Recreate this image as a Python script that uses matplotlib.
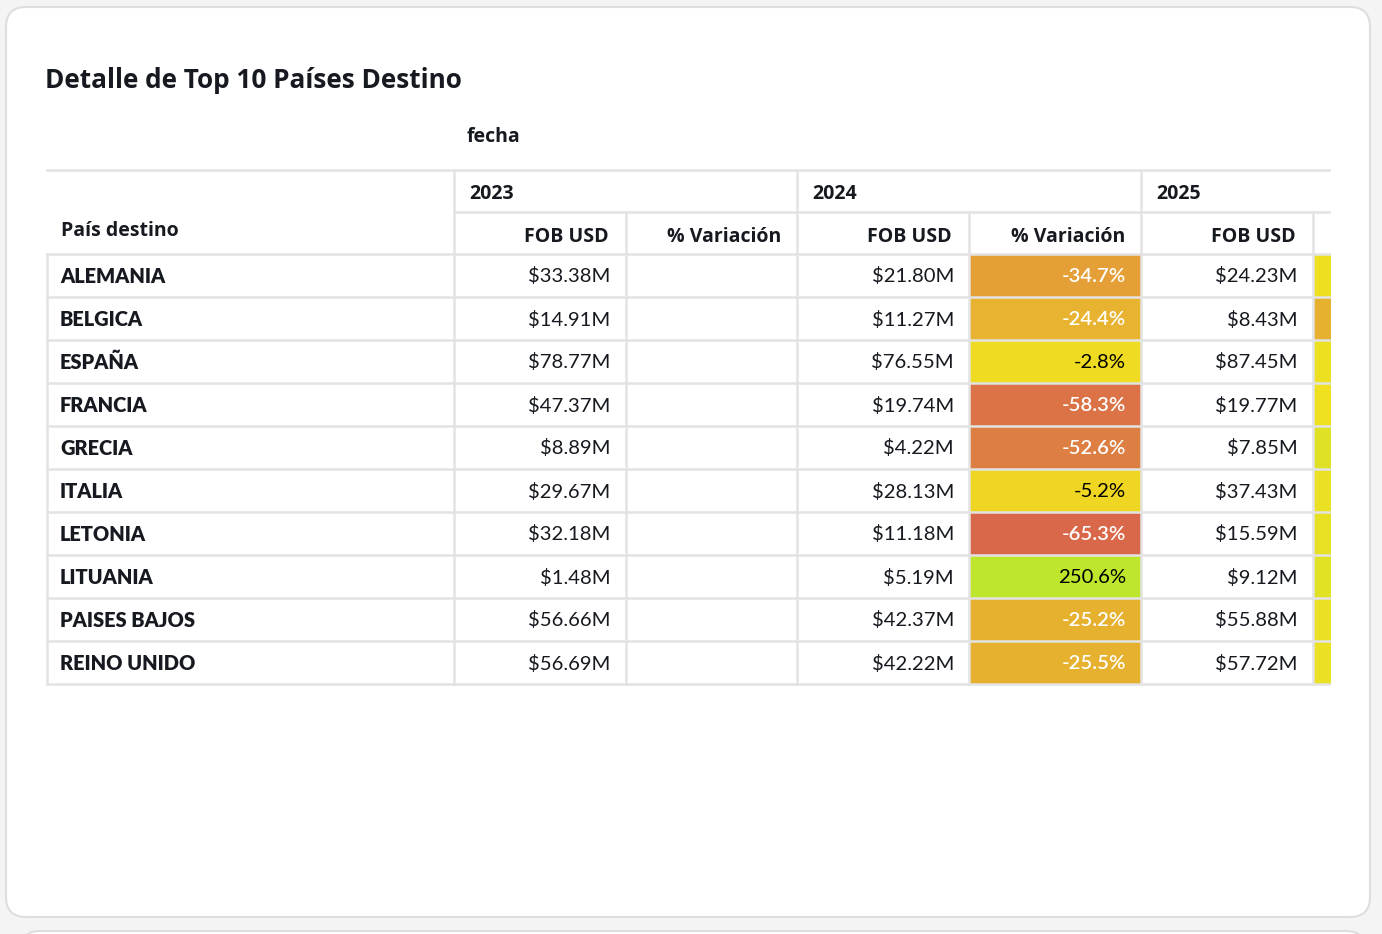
import matplotlib
matplotlib.use("Agg")
import matplotlib.pyplot as plt
from matplotlib.patches import FancyBboxPatch, Rectangle
from matplotlib.colors import LinearSegmentedColormap, TwoSlopeNorm

plt.rcParams['font.family'] = ['Lato', 'DejaVu Sans']
HDR_FONT = ['Open Sans', 'DejaVu Sans']

# ---------------- data ----------------
title = "Detalle de Top 10 Países Destino"
countries = ["ALEMANIA", "BELGICA", "ESPAÑA", "FRANCIA", "GRECIA", "ITALIA",
             "LETONIA", "LITUANIA", "PAISES BAJOS", "REINO UNIDO"]
years = ["2023", "2024", "2025"]
fob_2023 = [33.38, 14.91, 78.77, 47.37, 8.89, 29.67, 32.18, 1.48, 56.66, 56.69]
fob_2024 = [21.80, 11.27, 76.55, 19.74, 4.22, 28.13, 11.18, 5.19, 42.37, 42.22]
fob_2025 = [24.23, 8.43, 87.45, 19.77, 7.85, 37.43, 15.59, 9.12, 55.88, 57.72]
var_2024 = [-34.7, -24.4, -2.8, -58.3, -52.6, -5.2, -65.3, 250.6, -25.2, -25.5]
var_2025 = [11.1, -25.2, 14.2, 0.2, 86.0, 33.1, 39.4, 75.7, 31.9, 36.7]

fob = [fob_2023, fob_2024, fob_2025]
var = [None, var_2024, var_2025]

# ---------------- figure ----------------
W, H = 1382, 934
fig = plt.figure(figsize=(W / 100, H / 100), dpi=100)
fig.patch.set_facecolor('#f4f4f4')
bg = fig.add_axes([0, 0, 1, 1])
bg.set_xlim(0, W)
bg.set_ylim(H, 0)
bg.axis('off')

card = FancyBboxPatch((6, 7), 1364, 910, boxstyle="round,pad=0,rounding_size=20",
                      facecolor='white', edgecolor='#dedede', linewidth=1.5)
bg.add_patch(card)
card2 = FancyBboxPatch((20, 931), 1346, 120, boxstyle="round,pad=0,rounding_size=20",
                       facecolor='white', edgecolor='#dedede', linewidth=1.5)
bg.add_patch(card2)

txt_c = '#16191f'
bg.text(45, 80, title, fontsize=18.8, fontweight='bold', family=HDR_FONT,
        color=txt_c, ha='left', va='center')
bg.text(467, 137, "fecha", fontsize=14, fontweight='bold', family=HDR_FONT,
        color=txt_c, ha='left', va='center')

# table axes, clipped at x = 1331
clip_x = 1331
tax = fig.add_axes([0, 0, clip_x / W, 1])
tax.set_xlim(0, clip_x)
tax.set_ylim(H, 0)
tax.axis('off')
tax.patch.set_alpha(0)

col_left = 47
col_name_r = 454
col_w = 171.7
hdr1_top, hdr2_top, body_top = 170, 212, 254
row_h = 43
n = len(countries)
body_bot = body_top + n * row_h

cmap = LinearSegmentedColormap.from_list(
    "var", [(0.0, '#d9674a'), (0.5, '#f0e020'), (1.0, '#bde62c')])
all_vals = var_2024 + var_2025
norm = TwoSlopeNorm(vmin=min(all_vals), vcenter=0, vmax=max(all_vals))

grid_c = '#e3e3e3'
lw = 1.8
fs = 14.6
hfs = 14.0

# colored cells (text shown only where the column is visible)
for yi in range(len(years)):
    if var[yi] is None:
        continue
    x0 = col_name_r + (2 * yi + 1) * col_w
    for r, v in enumerate(var[yi]):
        y0 = body_top + r * row_h
        tax.add_patch(Rectangle((x0, y0), col_w, row_h, facecolor=cmap(norm(v)),
                                edgecolor='none', clip_on=True))
        if x0 + col_w <= clip_x:
            tc = 'white' if v < -10 else 'black'
            tax.text(x0 + col_w - 15, y0 + row_h / 2 + 1, f"{v:.1f}%", fontsize=fs,
                     fontweight=600 if tc == 'white' else 'normal',
                     color=tc, ha='right', va='center')

# grid lines
right_end = col_name_r + 6 * col_w
tax.plot([col_left, right_end], [hdr1_top, hdr1_top], color=grid_c, lw=lw, clip_on=True)
tax.plot([col_name_r, right_end], [hdr2_top, hdr2_top], color=grid_c, lw=lw, clip_on=True)
for r in range(n + 1):
    y = body_top + r * row_h
    tax.plot([col_left, right_end], [y, y], color=grid_c, lw=lw, clip_on=True)
tax.plot([col_left, col_left], [body_top, body_bot], color=grid_c, lw=lw, clip_on=True)
for k in range(7):
    x = col_name_r + k * col_w
    top = hdr1_top if k % 2 == 0 else hdr2_top
    tax.plot([x, x], [top, body_bot], color=grid_c, lw=lw, clip_on=True)

# header texts
tax.text(61, 231, "País destino", fontsize=hfs, fontweight='bold', family=HDR_FONT,
         color=txt_c, ha='left', va='center')
for yi, yr in enumerate(years):
    x0 = col_name_r + 2 * yi * col_w
    tax.text(x0 + 15, 194, yr, fontsize=hfs, fontweight='bold', family=HDR_FONT,
             color=txt_c, ha='left', va='center')
    tax.text(x0 + col_w - 17, 237, "FOB USD", fontsize=hfs, fontweight='bold',
             family=HDR_FONT, color=txt_c, ha='right', va='center')
    if x0 + 2 * col_w <= clip_x:
        tax.text(x0 + 2 * col_w - 16, 237, "% Variación", fontsize=hfs,
                 fontweight='bold', family=HDR_FONT, color=txt_c,
                 ha='right', va='center')

# body texts
for r, c in enumerate(countries):
    yc = body_top + r * row_h + row_h / 2 + 1
    tax.text(60, yc, c, fontsize=14.4, fontweight=800, color=txt_c,
             ha='left', va='center')
    for yi in range(len(years)):
        x0 = col_name_r + 2 * yi * col_w
        tax.text(x0 + col_w - 15, yc, f"${fob[yi][r]:.2f}M", fontsize=fs,
                 color=txt_c, ha='right', va='center')

fig.savefig("out.png", dpi=100, facecolor=fig.get_facecolor())
